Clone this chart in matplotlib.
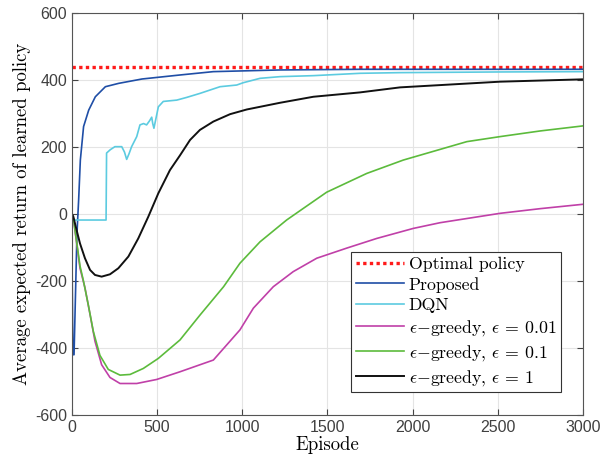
import matplotlib
matplotlib.use('Agg')
import matplotlib.pyplot as plt

# values
optimal_value = 438

ep_prop = [0, 5, 12, 29, 39, 49, 68, 98, 137, 196, 274, 411, 634, 830, 1221, 1691, 2200, 3000]
prop = [-120, -420, -420, -60, 42, 161, 261, 310, 350, 380, 390, 403, 415, 425, 430, 432, 432, 432]

ep_dqn = [0, 10, 200, 203, 225, 252, 292, 308, 321, 335, 350, 380, 399, 420, 438, 455, 468, 474,
          481, 507, 536, 615, 673, 751, 869, 967, 1006, 1104, 1221, 1417, 1691, 1926, 2500, 3000]
dqn = [0, -18, -18, 182, 192, 201, 201, 185, 163, 180, 201, 231, 266, 270, 266, 278, 289, 270,
       256, 320, 336, 340, 348, 360, 380, 385, 392, 405, 410, 413, 420, 422, 424, 425]

ep_e001 = [0, 8, 47, 76, 106, 135, 174, 223, 282, 380, 497, 634, 830, 908, 986, 1065, 1182,
           1299, 1437, 1612, 1789, 2004, 2161, 2513, 2750, 3000]
e001 = [0, -13, -162, -220, -300, -380, -450, -488, -506, -506, -494, -471, -436, -391, -346,
        -281, -217, -172, -132, -102, -73, -43, -26, 2, 16, 29]

ep_e01 = [0, 8, 47, 66, 96, 125, 164, 213, 282, 341, 419, 507, 634, 751, 890, 986, 1104, 1260,
          1339, 1495, 1730, 1945, 2318, 2513, 2750, 3000]
e01 = [0, -13, -155, -197, -272, -350, -422, -464, -481, -479, -461, -431, -376, -302, -217,
       -147, -83, -18, 10, 65, 121, 161, 216, 231, 248, 263]

ep_e1 = [0, 8, 27, 47, 76, 106, 135, 174, 223, 272, 331, 389, 448, 507, 575, 634, 693, 751,
         830, 928, 1026, 1221, 1417, 1691, 1926, 2513, 3000]
e1 = [0, -8, -48, -88, -132, -167, -182, -187, -180, -162, -127, -73, -8, 62, 131, 175, 221,
      251, 276, 298, 312, 332, 350, 363, 378, 395, 402]

labels = ['Optimal policy', 'Proposed', 'DQN',
          r'$\epsilon$$-$greedy, $\epsilon$ = 0.01',
          r'$\epsilon$$-$greedy, $\epsilon$ = 0.1',
          r'$\epsilon$$-$greedy, $\epsilon$ = 1']

plt.rcParams['mathtext.fontset'] = 'cm'
plt.rcParams['axes.unicode_minus'] = False

fig = plt.figure(figsize=(6.02, 4.63), dpi=100)
ax = fig.add_axes([0.1196, 0.1037, 0.8488, 0.8682])

ax.plot([0, 3000], [optimal_value, optimal_value], color='#ff1a1a', ls=(0, (1, 1)), lw=2.4, label=labels[0])
ax.plot(ep_prop, prop, color='#1f4ea6', lw=1.2, label=labels[1])
ax.plot(ep_dqn, dqn, color='#5ccbe0', lw=1.2, label=labels[2])
ax.plot(ep_e001, e001, color='#c040a8', lw=1.2, label=labels[3])
ax.plot(ep_e01, e01, color='#5cbb3c', lw=1.2, label=labels[4])
ax.plot(ep_e1, e1, color='#111111', lw=1.4, label=labels[5])

ax.set_xlim(0, 3000)
ax.set_ylim(-600, 600)
ax.set_xticks(range(0, 3001, 500))
ax.set_yticks(range(-600, 601, 200))
ax.grid(True, color='#e4e4e4', lw=0.8)
ax.set_axisbelow(True)
ax.tick_params(direction='in', top=True, right=True, length=4, width=0.8,
               color='#444444', labelcolor='#404040', labelsize=11.5)
for lab in ax.get_xticklabels() + ax.get_yticklabels():
    lab.set_family('Liberation Sans')
for sp in ax.spines.values():
    sp.set_color('#555555')
    sp.set_linewidth(0.8)

ax.set_xlabel('Episode', family='cmr10', fontsize=13.5, labelpad=1)
ax.set_ylabel('Average expected return of learned policy', family='cmr10', fontsize=13.5, labelpad=3)

leg = ax.legend(loc='lower right', prop={'family': 'cmr10', 'size': 12.8}, frameon=True,
                fancybox=False, edgecolor='#333333', framealpha=1, handlelength=2.7,
                labelspacing=0.28, borderpad=0.25, handletextpad=0.3, borderaxespad=0,
                bbox_to_anchor=(0.957, 0.057))
leg.get_frame().set_linewidth(0.8)

fig.savefig('out.png', dpi=100)
